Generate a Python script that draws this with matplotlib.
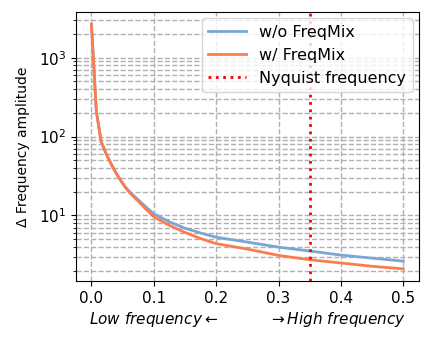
import matplotlib
matplotlib.use("Agg")
import matplotlib.pyplot as plt

# normalized frequency
freq = [0.0, 0.0078, 0.0156, 0.0234, 0.0312, 0.039, 0.047, 0.0547, 0.0625,
        0.075, 0.0875, 0.1, 0.125, 0.15, 0.175, 0.2, 0.25, 0.3, 0.35,
        0.4, 0.45, 0.5]
amp_wo = [2650, 210, 86, 61, 45.5, 35, 27.8, 22.8, 19.5,
          15.8, 12.8, 10.5, 8.3, 6.9, 6.0, 5.3, 4.6, 3.97, 3.55,
          3.15, 2.88, 2.64]
amp_w = [2650, 210, 86, 61, 45.5, 35, 27.6, 22.5, 19.0,
         15.2, 12.0, 9.6, 7.5, 6.1, 5.1, 4.4, 3.75, 3.12, 2.75,
         2.5, 2.27, 2.11]
NYQUIST = 0.35

fig = plt.figure(figsize=(4.31, 3.44), dpi=100)
ax = fig.add_axes([0.176, 0.183, 0.796, 0.782])

ax.plot(freq, amp_wo, color="#7ba6d1", lw=2, label="w/o FreqMix")
ax.plot(freq, amp_w, color="#fb7d4f", lw=2, label="w/ FreqMix")
ax.axvline(NYQUIST, color="red", ls=":", lw=2, label="Nyquist frequency")

ax.set_yscale("log")
ax.set_xticks([0.0, 0.1, 0.2, 0.3, 0.4, 0.5])
ax.tick_params(labelsize=11)
ax.grid(which="both", ls="--", color="#b0b0b0", lw=1)
ax.set_axisbelow(True)

ax.set_ylabel("Δ Frequency amplitude", fontsize=10, labelpad=6)
ax.set_xlabel(r"$\it{Low\ frequency}\leftarrow$          $\rightarrow\it{High\ frequency}$",
              fontsize=11, labelpad=3)
ax.legend(loc="upper right", fontsize=11.5, handlelength=2.4, borderaxespad=0.4)

fig.savefig("out.png", dpi=100)
